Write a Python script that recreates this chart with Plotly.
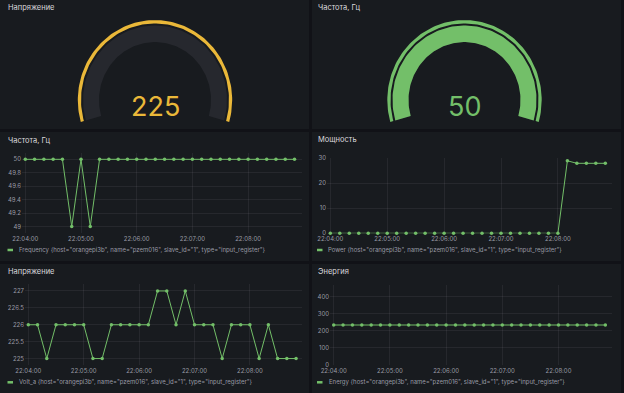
import numpy as np
import pandas as pd
import plotly.graph_objects as go

W, H = 624, 393
DATE = "2024-05-20 "

# ---------------- data ----------------
times = ["22:04:00", "22:04:10", "22:04:20", "22:04:30", "22:04:40", "22:04:50",
         "22:05:00", "22:05:10", "22:05:20", "22:05:30", "22:05:40", "22:05:50",
         "22:06:00", "22:06:10", "22:06:20", "22:06:30", "22:06:40", "22:06:50",
         "22:07:00", "22:07:10", "22:07:20", "22:07:30", "22:07:40", "22:07:50",
         "22:08:00", "22:08:10", "22:08:20", "22:08:30", "22:08:40", "22:08:50"]

freq = [50, 50, 50, 50, 50, 49, 50, 49, 50, 50, 50, 50, 50, 50, 50,
        50, 50, 50, 50, 50, 50, 50, 50, 50, 50, 50, 50, 50, 50, 50]
power = [0, 0, 0, 0, 0, 0, 0, 0, 0, 0, 0, 0, 0, 0, 0,
         0, 0, 0, 0, 0, 0, 0, 0, 0, 0, 29, 28, 28, 28, 28]
volt = [226, 226, 225, 226, 226, 226, 226, 225, 225, 226, 226, 226, 226, 226, 227,
        227, 226, 227, 226, 226, 226, 225, 226, 226, 226, 225, 226, 225, 225, 225]
energy = [234, 234, 234, 234, 234, 234, 234, 234, 234, 234, 234, 234, 234, 234, 234,
          234, 234, 234, 234, 234, 234, 234, 234, 234, 234, 234, 234, 234, 234, 234]

series_names = ["Frequency", "Power", "Volt_a", "Energy"]
labels_suffix = '{host="orangepi3b", name="pzem016", slave_id="1", type="input_register"}'
panel_titles = ["Напряжение", "Частота, Гц", "Частота, Гц", "Мощность", "Напряжение", "Энергия"]

freq_ticks = [49, 49.2, 49.4, 49.6, 49.8, 50]
power_ticks = [0, 10, 20, 30]
volt_ticks = [225, 225.5, 226, 226.5, 227]
energy_ticks = [0, 100, 200, 300, 400]
x_ticks = ["22:04:00", "22:05:00", "22:06:00", "22:07:00", "22:08:00"]

volt_gauge_value = volt[-1]
volt_gauge_range = [230, 250]
freq_gauge_value = freq[-1]
freq_gauge_range = [0, 50]

# ---------------- style ----------------
PAGE_BG = "#111217"
PANEL_BG = "#181b1f"
GREEN = "#73BF69"
YELLOW = "#EAB839"
GAUGE_BG = "#26282e"
GRID = "rgba(204,204,220,0.08)"
TICK_COLOR = "rgba(204,204,220,0.72)"
TITLE_COLOR = "#d8d9dc"
FONT = "Inter, Roboto, sans-serif"

t = pd.to_datetime([DATE + s for s in times])
t0 = pd.Timestamp(DATE + times[0])
xtick_vals = pd.to_datetime([DATE + s for s in x_ticks])

panels = [  # x0, x1, y0, y1 in pixels
    (0, 309, 0, 129), (312, 621, 0, 129),
    (0, 309, 132, 261), (312, 621, 132, 261),
    (0, 309, 264, 393), (312, 621, 264, 393),
]


def dom_x(x0, x1):
    return [x0 / W, x1 / W]


def dom_y(y0, y1):
    return [1 - y1 / H, 1 - y0 / H]


def time_range(x0, x1, t0px, ppm):
    left = t0 + pd.Timedelta(seconds=(x0 - t0px) / ppm * 60)
    right = t0 + pd.Timedelta(seconds=(x1 - t0px) / ppm * 60)
    return [left, right]


fig = go.Figure()

# panel backgrounds
shapes = []
for (x0, x1, y0, y1) in panels:
    shapes.append(dict(type="rect", xref="paper", yref="paper",
                       x0=x0 / W, x1=x1 / W, y0=1 - y1 / H, y1=1 - y0 / H,
                       fillcolor=PANEL_BG, line=dict(width=0), layer="below"))

# time-series subplots: (box px, t0 px, px per minute, y-range, ticks, data)
ts_specs = [
    dict(box=(22, 302, 152.6, 233.3), t0px=25.3, ppm=55.7, yr=[48.9, 50.1], ticks=freq_ticks, y=freq),
    dict(box=(327, 612, 158.3, 233.3), t0px=330.3, ppm=56.9, yr=[0, 30], ticks=power_ticks, y=power),
    dict(box=(25, 302, 284.2, 365.3), t0px=28.3, ppm=55.4, yr=[224.8, 227.2], ticks=volt_ticks, y=volt),
    dict(box=(330, 612, 285, 365), t0px=333.7, ppm=56.2, yr=[0, 468], ticks=energy_ticks, y=energy),
]

layout_axes = {}
for i, s in enumerate(ts_specs):
    n = "" if i == 0 else str(i + 1)
    x0, x1, y0, y1 = s["box"]
    fig.add_trace(go.Scatter(
        x=t, y=s["y"], mode="lines+markers", name=series_names[i],
        line=dict(color=GREEN, width=1),
        marker=dict(color=GREEN, size=3.5),
        xaxis="x" + n, yaxis="y" + n, cliponaxis=False, showlegend=False,
    ))
    layout_axes["xaxis" + n] = dict(
        domain=dom_x(x0, x1), anchor="y" + n,
        range=time_range(x0, x1, s["t0px"], s["ppm"]),
        tickvals=xtick_vals, tickformat="%H:%M:%S",
        showgrid=True, gridcolor=GRID, gridwidth=1, zeroline=False, showline=False,
        ticks="", ticklabelstandoff=1, automargin=False,
        tickfont=dict(size=6, color=TICK_COLOR, family=FONT), fixedrange=True,
    )
    layout_axes["yaxis" + n] = dict(
        domain=dom_y(y0, y1), anchor="x" + n, range=s["yr"],
        tickvals=s["ticks"], showgrid=True, gridcolor=GRID, gridwidth=1,
        zeroline=False, showline=False, ticks="", automargin=False,
        tickfont=dict(size=6, color=TICK_COLOR, family=FONT), fixedrange=True,
    )

# gauges drawn in pixel-unit axes
SY = 1.035  # slight vertical stretch seen in the screenshot


def arc_poly(cx, cy, r_in, r_out, a0, a1, n=120):
    a = np.radians(np.linspace(a0, a1, n))
    xo = cx + r_out * np.cos(a)
    yo = cy - SY * r_out * np.sin(a)
    xi = cx + r_in * np.cos(a[::-1])
    yi = cy - SY * r_in * np.sin(a[::-1])
    return np.concatenate([xo, xi, xo[:1]]), np.concatenate([yo, yi, yo[:1]])


A_START, A_END = 196, -16
SPAN = A_START - A_END
RING = (74, 77.2)
BAND = (56, 72)
CY = 100

gauges = [
    dict(panel=panels[0], cx=155, value=volt_gauge_value, rng=volt_gauge_range, color=YELLOW),
    dict(panel=panels[1], cx=464.5, value=freq_gauge_value, rng=freq_gauge_range, color=GREEN),
]
annotations = []
for gi, g in enumerate(gauges):
    n = str(5 + gi)
    x0, x1, y0, y1 = g["panel"]
    frac = (g["value"] - g["rng"][0]) / (g["rng"][1] - g["rng"][0])
    frac = min(max(frac, 0), 1)
    bx, by = arc_poly(g["cx"], CY, BAND[0], BAND[1], A_START, A_END)
    fig.add_trace(go.Scatter(x=bx, y=by, fill="toself", fillcolor=GAUGE_BG, mode="lines",
                             line=dict(width=0), xaxis="x" + n, yaxis="y" + n,
                             hoverinfo="skip", showlegend=False))
    if frac > 0:
        vx, vy = arc_poly(g["cx"], CY, BAND[0], BAND[1], A_START, A_START - SPAN * frac)
        fig.add_trace(go.Scatter(x=vx, y=vy, fill="toself", fillcolor=g["color"], mode="lines",
                                 line=dict(width=0), xaxis="x" + n, yaxis="y" + n,
                                 hoverinfo="skip", showlegend=False))
    rx, ry = arc_poly(g["cx"], CY, RING[0], RING[1], A_START, A_END)
    fig.add_trace(go.Scatter(x=rx, y=ry, fill="toself", fillcolor=g["color"], mode="lines",
                             line=dict(width=0), xaxis="x" + n, yaxis="y" + n,
                             hoverinfo="skip", showlegend=False))
    layout_axes["xaxis" + n] = dict(domain=dom_x(x0, x1), range=[x0, x1], visible=False,
                                    anchor="y" + n, fixedrange=True, automargin=False)
    layout_axes["yaxis" + n] = dict(domain=dom_y(y0, y1), range=[y1, y0], visible=False,
                                    anchor="x" + n, fixedrange=True, automargin=False)
    annotations.append(dict(x=g["cx"], y=106, xref="x" + n, yref="y" + n,
                            text=str(g["value"]), showarrow=False,
                            font=dict(size=27, color=g["color"], family=FONT),
                            xanchor="center", yanchor="middle"))

# panel titles
title_pos = [(6, 7.5), (316, 8), (6, 140), (315.5, 139.5), (6, 271), (316, 271)]
for (tx, ty), txt in zip(title_pos, panel_titles):
    annotations.append(dict(x=tx / W, y=1 - ty / H, xref="paper", yref="paper", text=txt,
                            showarrow=False, xanchor="left", yanchor="middle",
                            font=dict(size=7.5, color=TITLE_COLOR, family=FONT)))

# legends (dash + label)
legend_pos = [(7.5, 16.7, 250), (317, 326, 250), (7.5, 16.7, 382.3), (317, 326.5, 382.3)]
for (dx, tx, ty), nm in zip(legend_pos, series_names):
    shapes.append(dict(type="line", xref="paper", yref="paper",
                       x0=dx / W, x1=(dx + 5.5) / W, y0=1 - ty / H, y1=1 - ty / H,
                       line=dict(color=GREEN, width=2.5)))
    annotations.append(dict(x=tx / W, y=1 - ty / H, xref="paper", yref="paper",
                            text=nm + " " + labels_suffix, showarrow=False,
                            xanchor="left", yanchor="middle",
                            font=dict(size=6, color=TICK_COLOR, family=FONT)))

fig.update_layout(
    width=W, height=H, margin=dict(l=0, r=0, t=0, b=0, pad=0, autoexpand=False),
    paper_bgcolor=PAGE_BG, plot_bgcolor="rgba(0,0,0,0)",
    font=dict(family=FONT, color=TICK_COLOR),
    shapes=shapes, annotations=annotations, showlegend=False,
    **layout_axes,
)

fig.write_html(
    "out.html",
    config={"displayModeBar": False},
    post_script=("document.documentElement.style.margin='0';"
                 "document.body.style.margin='0';document.body.style.padding='0';"
                 "document.body.style.overflow='hidden';"
                 "document.body.style.background='" + PAGE_BG + "';"
                 "var d=document.querySelector('.plotly-graph-div');"
                 "d.style.position='fixed';d.style.left='0px';d.style.top='0px';"),
)
